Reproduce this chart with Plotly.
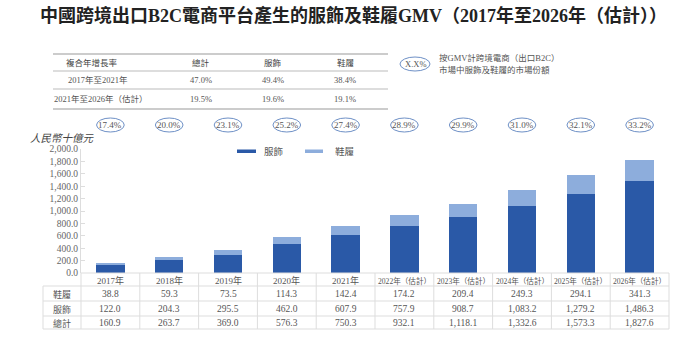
import plotly.graph_objects as go

years = ["2017年", "2018年", "2019年", "2020年", "2021年", "2022年（估計）",
         "2023年（估計）", "2024年（估計）", "2025年（估計）", "2026年（估計）"]
apparel = [122.0, 204.3, 295.5, 462.0, 607.9, 757.9, 908.7, 1083.2, 1279.2, 1486.3]
footwear = [38.8, 59.3, 73.5, 114.3, 142.4, 174.2, 209.4, 249.3, 294.1, 341.3]
totals = [160.9, 263.7, 369.0, 576.3, 750.3, 932.1, 1118.1, 1332.6, 1573.3, 1827.6]
shares = ["17.4%", "20.0%", "23.1%", "25.2%", "27.4%", "28.9%", "29.9%", "31.0%", "32.1%", "33.2%"]

cagr_header = ["複合年增長率", "總計", "服飾", "鞋履"]
cagr_rows = [["2017年至2021年", "47.0%", "49.4%", "38.4%"],
             ["2021年至2026年（估計）", "19.5%", "19.6%", "19.1%"]]

title = "中國跨境出口B2C電商平台產生的服飾及鞋履GMV（2017年至2026年（估計））"

C_DARK = "#2A59A7"
C_LIGHT = "#8DADDC"
C_ELL = "#6E90C6"
TXT = "#555555"
GRID = "#DDDDDD"
SERIF = "Liberation Serif, 'Noto Sans CJK TC', serif"

W, H = 691, 338
L, R, T, B = 81, 669, 149, 273
n = len(years)

def px(x):
    return (x - L) / (R - L)

def py(y):
    return (B - y) / (B - T)

fig = go.Figure()
fig.add_trace(go.Bar(x=list(range(n)), y=apparel, name="服飾", marker_color=C_DARK,
                     marker_line_width=0, width=0.48))
fig.add_trace(go.Bar(x=list(range(n)), y=footwear, name="鞋履", marker_color=C_LIGHT,
                     marker_line_width=0, width=0.48))

shapes = []
ann = []

def text(x, y, s, size=9.5, xref="paper", yref="paper", xanchor="center", color=TXT,
         family=SERIF, **kw):
    ann.append(dict(x=x, y=y, xref=xref, yref=yref, text=s, showarrow=False,
                    xanchor=xanchor, yanchor="middle",
                    font=dict(size=size, color=color, family=family), **kw))

def hline(x0, x1, y, color=GRID, width=1):
    shapes.append(dict(type="line", xref="paper", yref="paper", x0=px(x0), x1=px(x1),
                       y0=py(y), y1=py(y), line=dict(color=color, width=width)))

def vline(x, y0, y1, color=GRID, width=1):
    shapes.append(dict(type="line", xref="paper", yref="paper", x0=px(x), x1=px(x),
                       y0=py(y0), y1=py(y1), line=dict(color=color, width=width)))

# title
text(px(353), py(16), "<b>" + title + "</b>", size=18, color="#222222",
     family="Liberation Serif, 'Noto Sans CJK TC', serif")

# CAGR table
for yy in [54, 71, 89, 109]:
    hline(53, 388, yy, color="#BBBBBB", width=1.5 if yy in (54, 109) else 1)
col_x = [92, 201, 273, 345]
for j, h in enumerate(cagr_header):
    text(px(col_x[j]), py(63), h, size=8.5, color="#444444")
for i, row in enumerate(cagr_rows):
    yy = [80, 99][i]
    for j, s in enumerate(row):
        x = col_x[j] if j > 0 else [98, 101][i]
        text(px(x), py(yy), s, size=8.5)

# legend ellipse explanation
shapes.append(dict(type="circle", xref="paper", yref="paper", x0=px(400), x1=px(430),
                   y0=py(71), y1=py(57), line=dict(color=C_ELL, width=1)))
text(px(415), py(64), "X.X%", size=8.5)
text(px(437), py(58), "按GMV計跨境電商（出口B2C）", size=8.5, xanchor="left")
text(px(437), py(70), "市場中服飾及鞋履的市場份額", size=8.5, xanchor="left")

# share ellipses
for i, s in enumerate(shares):
    shapes.append(dict(type="circle", xref="x", yref="paper", x0=i - 0.235, x1=i + 0.235,
                       y0=py(132), y1=py(118), line=dict(color=C_ELL, width=1)))
    text(i, py(125), s, size=9, xref="x")

# y axis title
text(px(62), py(138), "<i>人民幣十億元</i>", size=10.5, color="#444444")

# manual legend
shapes.append(dict(type="rect", xref="paper", yref="paper", x0=px(237), x1=px(256),
                   y0=py(153), y1=py(149.5), fillcolor=C_DARK, line=dict(width=0)))
text(px(262), py(151), "服飾", size=9.5, xanchor="left")
shapes.append(dict(type="rect", xref="paper", yref="paper", x0=px(305), x1=px(323),
                   y0=py(153), y1=py(149.5), fillcolor=C_LIGHT, line=dict(width=0)))
text(px(333), py(151), "鞋履", size=9.5, xanchor="left")

# bottom data table
step = (R - L) / n
hline(L, R, 273)
for yy in [286, 301, 316, 329]:
    hline(43, R, yy)
vline(43, 286, 329)
for k in range(n + 1):
    vline(L + k * step, 273, 329)
row_y = [294, 309, 323]
row_lab = ["鞋履", "服飾", "總計"]
row_vals = [footwear, apparel, totals]
for r in range(3):
    text(px(62), py(row_y[r]), row_lab[r], size=9)
    for i in range(n):
        text(i, py(row_y[r]), f"{row_vals[r][i]:,.1f}", size=9.5, xref="x")
for i, yl in enumerate(years):
    text(i, py(280.5), yl, size=9 if "估" not in yl else 7.6, xref="x")

fig.update_layout(
    width=W, height=H, barmode="stack", showlegend=False,
    margin=dict(l=L, r=W - R, t=T, b=H - B, pad=0),
    plot_bgcolor="white", paper_bgcolor="white",
    xaxis=dict(range=[-0.5, n - 0.5], showticklabels=False, showgrid=False,
               zeroline=False, showline=False, ticks=""),
    yaxis=dict(range=[0, 2000], dtick=200, tickformat=",.1f", showgrid=False,
               zeroline=False, showline=True, linecolor=GRID, linewidth=1,
               ticks="inside", ticklen=4, tickcolor=GRID,
               tickfont=dict(size=9.5, color="#666666", family=SERIF)),
    shapes=shapes, annotations=ann,
)
fig.write_html("out.html")
